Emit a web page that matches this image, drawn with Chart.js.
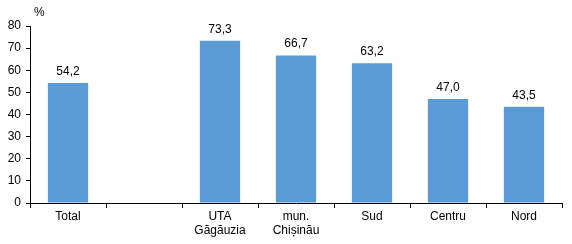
<!DOCTYPE html>
<html>
<head>
<meta charset="utf-8">
<script src="https://cdn.jsdelivr.net/npm/chart.js@4/dist/chart.umd.min.js"></script>
<style>
  body { margin: 0; background: #fff; }
  #wrap { width: 572px; height: 244px; }
</style>
</head>
<body>
<div id="wrap"><canvas id="chart1" width="572" height="244"></canvas></div>
<script>
const categories = ['Total', '', ['UTA', 'Găgăuzia'], ['mun.', 'Chișinău'], 'Sud', 'Centru', 'Nord'];
const values = [54.2, null, 73.3, 66.7, 63.2, 47.0, 43.5];
const y_ticks = [0, 10, 20, 30, 40, 50, 60, 70, 80];

const font_family = '"Liberation Sans", Arial, sans-serif';

// labels above the bars, with decimal comma
const bar_labels = {
    id: 'bar_labels',
    afterDatasetsDraw(chart) {
        const ctx = chart.ctx;
        const meta = chart.getDatasetMeta(0);
        ctx.save();
        ctx.font = '12px ' + font_family;
        ctx.fillStyle = '#000';
        ctx.textAlign = 'center';
        ctx.textBaseline = 'alphabetic';
        meta.data.forEach(function(bar, i) {
            if (values[i] == null) return;
            ctx.fillText(values[i].toFixed(1).replace('.', ','), bar.x, bar.y - 8);
        });
        // unit above the y axis
        ctx.textAlign = 'left';
        ctx.fillText('%', chart.chartArea.left + 4, 16);
        ctx.restore();
    }
};

const chart1_cfg = {
    type: 'bar',
    data: {
        labels: categories,
        datasets: [{
            data: values,
            backgroundColor: '#5B9BD5',
            borderWidth: 0,
            barPercentage: 0.53,
            categoryPercentage: 1.0
        }]
    },
    options: {
        responsive: false,
        animation: false,
        layout: { padding: { top: 26, right: 10, left: 0, bottom: 0 } },
        plugins: {
            legend: { display: false },
            tooltip: { enabled: false }
        },
        scales: {
            x: {
                grid: {
                    display: true,
                    drawOnChartArea: false,
                    tickLength: 5,
                    color: '#000',
                    offset: true
                },
                border: { color: '#000' },
                ticks: {
                    color: '#000',
                    font: { family: font_family, size: 12 },
                    padding: 1,
                    maxRotation: 0,
                    autoSkip: false
                },
                afterFit(scale) { scale.height = 41; }
            },
            y: {
                min: 0,
                max: 80,
                afterBuildTicks(scale) { scale.ticks = y_ticks.map(v => ({ value: v })); },
                grid: {
                    display: true,
                    drawOnChartArea: false,
                    tickLength: 4,
                    color: '#000'
                },
                border: { color: '#000' },
                ticks: {
                    color: '#000',
                    font: { family: font_family, size: 12 },
                    padding: 5
                },
                afterFit(scale) { scale.width = 30; }
            }
        }
    },
    plugins: [bar_labels]
};

const chart1_ctx = document.getElementById('chart1').getContext('2d');
let chart1 = new Chart(chart1_ctx, chart1_cfg);
</script>
</body>
</html>
